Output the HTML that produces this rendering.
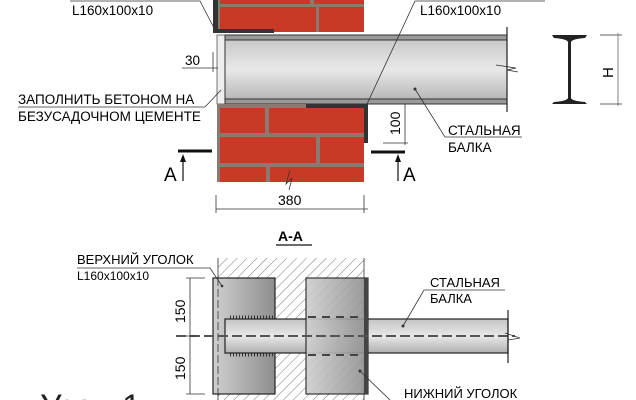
<!DOCTYPE html>
<html><head><meta charset="utf-8"><style>
html,body{margin:0;padding:0;background:#fff;width:636px;height:400px;overflow:hidden;}
svg{display:block;font-family:"Liberation Sans",sans-serif;}
</style></head><body>
<svg width="636" height="400" viewBox="0 0 636 400" xmlns="http://www.w3.org/2000/svg" overflow="hidden">
<defs>
<clipPath id="frame"><rect x="0" y="0" width="636" height="400"/></clipPath>
<linearGradient id="bm" x1="0" y1="0" x2="0" y2="1">
<stop offset="0" stop-color="#c4c4c4"/><stop offset="0.5" stop-color="#e8e8e8"/><stop offset="1" stop-color="#b0b0b0"/>
</linearGradient>
<linearGradient id="pl" x1="0" y1="0" x2="1" y2="0">
<stop offset="0" stop-color="#cfcfcf"/><stop offset="1" stop-color="#8e8e8e"/>
</linearGradient>
<pattern id="hat" width="7" height="7" patternUnits="userSpaceOnUse" patternTransform="rotate(45)">
<line x1="0" y1="0" x2="0" y2="7" stroke="#555" stroke-width="0.8"/>
</pattern>
</defs>
<g clip-path="url(#frame)">
<rect x="217" y="0" width="147" height="32" fill="#8a7a72"/>
<rect x="220" y="0" width="90" height="4" fill="#c83a26"/>
<rect x="314" y="0" width="50" height="4" fill="#c83a26"/>
<rect x="220" y="7" width="96" height="25" fill="#c83a26"/>
<rect x="319" y="7" width="45" height="25" fill="#c83a26"/>
<path d="M213 0 H218 V29 H274 V33 H213 Z" fill="#333"/>
<rect x="217" y="35" width="8" height="69" fill="#eee" stroke="#555" stroke-width="0.8"/>
<rect x="225" y="35" width="282" height="69" fill="url(#bm)"/>
<rect x="225" y="35" width="282" height="5" fill="#9a9a9a" stroke="#333" stroke-width="1"/>
<rect x="225" y="99" width="282" height="5" fill="#9a9a9a" stroke="#333" stroke-width="1"/>
<line x1="507" y1="27" x2="507" y2="112" stroke="#222" stroke-width="1.2"/>
<polyline points="496,65 516,68 507,70 518,72" fill="none" stroke="#333" stroke-width="0.8"/>
<line x1="225" y1="35" x2="225" y2="104" stroke="#333"/>
<rect x="217" y="104" width="147" height="78" fill="#8a7a72"/>
<rect x="220" y="108" width="45" height="25" fill="#c83a26"/>
<rect x="269" y="108" width="95" height="25" fill="#c83a26"/>
<rect x="220" y="137" width="96" height="26" fill="#c83a26"/>
<rect x="320" y="137" width="44" height="26" fill="#c83a26"/>
<rect x="220" y="167" width="46" height="15" fill="#c83a26"/>
<rect x="270" y="167" width="94" height="15" fill="#c83a26"/>
<polyline points="290,170 286,184 292,178 289,190" fill="none" stroke="#333" stroke-width="0.8"/>
<path d="M306 104 H368 V143 H364 V108 H306 Z" fill="#333"/>
<text x="72" y="15" font-size="13.5">L160x100x10</text>
<polyline points="70,1 200,1 214,28" fill="none" stroke="#333" stroke-width="0.8"/>
<text x="185" y="65" font-size="13.5">30</text>
<line x1="182" y1="68" x2="218" y2="68" stroke="#333" stroke-width="0.8"/>
<line x1="213" y1="52" x2="213" y2="72" stroke="#333" stroke-width="0.8"/>
<text x="18" y="104" font-size="13.5">ЗАПОЛНИТЬ БЕТОНОМ НА</text>
<text x="18" y="121" font-size="13.5">БЕЗУСАДОЧНОМ ЦЕМЕНТЕ</text>
<polyline points="18,107 205,107 221,90" fill="none" stroke="#333" stroke-width="0.8"/>
<line x1="178" y1="151" x2="212" y2="151" stroke="#111" stroke-width="3"/>
<line x1="183" y1="158" x2="183" y2="181" stroke="#111" stroke-width="1.2"/>
<path d="M180 162 L183 154 L186 162 Z" fill="#111"/>
<text x="164" y="181" font-size="19">A</text>
<line x1="371" y1="152" x2="405" y2="152" stroke="#111" stroke-width="3"/>
<line x1="398" y1="158" x2="398" y2="181" stroke="#111" stroke-width="1.2"/>
<path d="M395 162 L398 154 L401 162 Z" fill="#111"/>
<text x="403" y="181" font-size="19">A</text>
<text x="278" y="205" font-size="14">380</text>
<line x1="216" y1="209" x2="368" y2="209" stroke="#333" stroke-width="0.8"/>
<line x1="216" y1="195" x2="216" y2="213" stroke="#333" stroke-width="0.8"/>
<line x1="364" y1="195" x2="364" y2="213" stroke="#333" stroke-width="0.8"/>
<line x1="405" y1="104" x2="405" y2="145" stroke="#333" stroke-width="0.8"/>
<line x1="383" y1="143" x2="408" y2="143" stroke="#333" stroke-width="0.8"/>
<text transform="translate(400,135) rotate(-90)" font-size="14">100</text>
<text x="420" y="15" font-size="13.5">L160x100x10</text>
<polyline points="367,104 415,1 545,1" fill="none" stroke="#333" stroke-width="0.8"/>
<text x="448" y="135" font-size="13.5">СТАЛЬНАЯ</text>
<text x="448" y="152" font-size="13.5">БАЛКА</text>
<polyline points="415,89 445,137 522,137" fill="none" stroke="#333" stroke-width="0.8"/>
<circle cx="415" cy="89" r="1.5" fill="#333"/>
<path d="M552 35 H587 L585 38 Q572 39 571 42 V98 Q572 101 585 102 L587 104 H552 L554 102 Q567 101 568 98 V42 Q567 39 554 38 Z" fill="#222"/>
<line x1="600" y1="35" x2="622" y2="35" stroke="#333" stroke-width="0.8"/>
<line x1="600" y1="104" x2="622" y2="104" stroke="#333" stroke-width="0.8"/>
<line x1="618" y1="33" x2="618" y2="106" stroke="#666" stroke-width="0.8"/>
<text transform="translate(613,78) rotate(-90)" font-size="15">H</text>
<text x="278" y="241" font-size="14" font-weight="bold">A-A</text>
<line x1="276" y1="245" x2="312" y2="245" stroke="#111" stroke-width="1.2"/>
<rect x="218" y="258" width="146" height="142" fill="url(#hat)"/>
<line x1="218" y1="258" x2="218" y2="400" stroke="#333" stroke-width="0.8"/>
<line x1="364" y1="258" x2="364" y2="400" stroke="#333" stroke-width="0.8"/>
<rect x="213" y="278" width="62" height="116" fill="url(#pl)" stroke="#222" stroke-width="1.2"/>
<line x1="218" y1="278" x2="218" y2="400" stroke="#333" stroke-width="0.8" stroke-dasharray="8,3"/>
<rect x="225" y="319" width="283" height="34" fill="url(#bm)" stroke="#222" stroke-width="1.2"/>
<rect x="306" y="278" width="62" height="116" fill="url(#pl)" stroke="#222" stroke-width="1.2" opacity="0.9"/>
<rect x="364" y="278" width="4" height="116" fill="#444"/>
<line x1="176" y1="336" x2="515" y2="336" stroke="#555" stroke-width="2" stroke-dasharray="10,4"/>
<line x1="230" y1="317" x2="275" y2="317" stroke="#333" stroke-width="3" stroke-dasharray="1,2"/>
<line x1="230" y1="355" x2="275" y2="355" stroke="#333" stroke-width="3" stroke-dasharray="1,2"/>
<line x1="308" y1="317" x2="368" y2="317" stroke="#444" stroke-width="2" stroke-dasharray="8,6"/>
<line x1="308" y1="355" x2="368" y2="355" stroke="#444" stroke-width="2" stroke-dasharray="8,6"/>
<line x1="508" y1="310" x2="508" y2="363" stroke="#222" stroke-width="1.2"/>
<polyline points="505,333 520,338 508,340" fill="none" stroke="#333" stroke-width="0.8"/>
<line x1="190" y1="278" x2="190" y2="394" stroke="#333" stroke-width="0.8"/>
<line x1="186" y1="278" x2="205" y2="278" stroke="#333" stroke-width="0.8"/>
<line x1="186" y1="394" x2="205" y2="394" stroke="#333" stroke-width="0.8"/>
<line x1="186" y1="336" x2="196" y2="336" stroke="#333" stroke-width="0.8"/>
<text transform="translate(185,323) rotate(-90)" font-size="14">150</text>
<text transform="translate(185,380) rotate(-90)" font-size="14">150</text>
<text x="77" y="264" font-size="13">ВЕРХНИЙ УГОЛОК</text>
<text x="77" y="280" font-size="12">L160x100x10</text>
<polyline points="77,268 210,268 222,286" fill="none" stroke="#333" stroke-width="0.8"/>
<circle cx="222" cy="286" r="1.3" fill="#333"/>
<text x="430" y="287" font-size="13">СТАЛЬНАЯ</text>
<text x="430" y="303" font-size="13">БАЛКА</text>
<polyline points="403,326 424,290 505,290" fill="none" stroke="#333" stroke-width="0.8"/>
<circle cx="403" cy="326" r="1.5" fill="#333"/>
<text x="404" y="398" font-size="13">НИЖНИЙ УГОЛОК</text>
<line x1="360" y1="371" x2="390" y2="400" stroke="#333" stroke-width="0.8"/>
<circle cx="360" cy="371" r="1.5" fill="#333"/>
<text x="40" y="418" font-size="34" fill="#222">Узел 1</text>
</g>
</svg>
</body></html>
